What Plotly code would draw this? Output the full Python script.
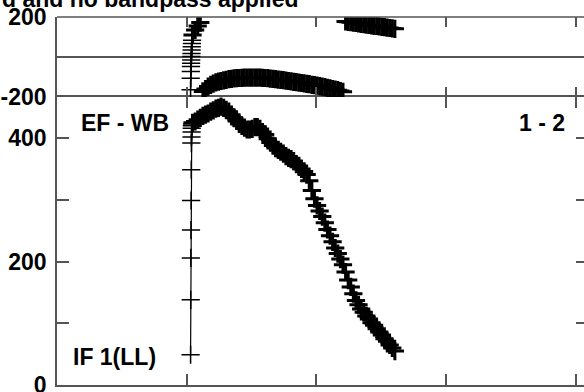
import plotly.graph_objects as go

# ---- data ----
# channel positions (x axis units; ticks at 1,2,3,4)
chan_x = [1.030, 1.031, 1.032, 1.033, 1.034, 1.035, 1.036, 1.037, 1.038, 1.039, 1.040, 1.041,
          1.045, 1.065, 1.085, 1.105, 1.125, 1.145, 1.165, 1.185, 1.205, 1.225,
          1.245, 1.265, 1.285, 1.305, 1.325, 1.345, 1.365, 1.385, 1.405, 1.425,
          1.445, 1.465, 1.485, 1.505, 1.525, 1.545, 1.565, 1.585, 1.605, 1.625,
          1.645, 1.665, 1.685, 1.705, 1.725, 1.745, 1.765, 1.785, 1.805, 1.825,
          1.845, 1.865, 1.885, 1.905, 1.925, 1.945, 1.965, 1.985, 2.005, 2.025,
          2.045, 2.065, 2.085, 2.105, 2.125, 2.145, 2.165, 2.185, 2.205, 2.225,
          2.245, 2.265, 2.285, 2.305, 2.325, 2.345, 2.365, 2.385, 2.405, 2.425,
          2.445, 2.465, 2.485, 2.505, 2.525, 2.545, 2.565, 2.585, 2.605]

amplitude = [49, 138, 206, 251, 299, 349, 392, 402, 410, 416, 420, 423,
             425, 427, 430, 433, 436, 438, 440, 443, 445, 448,
             449, 451, 449, 446, 443, 438, 433, 428, 423, 420,
             417, 414, 414, 415, 418, 418, 415, 410, 406, 399,
             393, 388, 384, 381, 378, 375, 371, 368, 366, 363,
             358, 355, 350, 346, 341, 331, 315, 302, 291, 282,
             273, 263, 252, 242, 232, 222, 213, 204, 195, 183,
             170, 159, 148, 137, 130, 123, 118, 112, 107, 101,
             97, 91, 86, 81, 75, 71, 65, 60, 55]

phase = [-164, -106, -73, -48, -31, -15, 2, 18, 35, 51, 68, 84,
         110, 135, 155, 172, -172, -160, -148, -139, -133, -127,
         -123, -120, -117, -114, -111, -109, -107, -106, -105, -104,
         -103, -103, -103, -103, -103, -103, -103, -104, -105, -106,
         -108, -109, -111, -113, -114, -116, -118, -120, -122, -124,
         -126, -128, -130, -132, -134, -136, -139, -141, -143, -146,
         -148, -151, -154, -157, -160, -163, -166, -170, -174, 178,
         176, 174, 172, 170, 168, 166, 164, 162, 160, 158,
         156, 155, 153, 151, 149, 147, 145, 143, 141]

amp_ticks = [0, 100, 200, 300, 400]
amp_ticktext = ["0", "", "200", "", "400"]
phase_ticks = [-200, 200]
phase_ticktext = ["-200", "200"]
x_ticks = [0, 1, 2, 3, 4]

title_text = "d and no bandpass applied"
baseline_label = "EF - WB"
pair_label = "1 - 2"
if_label = "IF 1(LL)"

N_SPREAD = 12  # first channels, drawn with thin crosses

# ---- break the phase line where it wraps ----
ph_x, ph_y, ph_w = [], [], []
for i, (xv, pv) in enumerate(zip(chan_x, phase)):
    if i > 0 and abs(pv - phase[i - 1]) > 180:
        ph_x.append((xv + chan_x[i - 1]) / 2)
        ph_y.append(None)
        ph_w.append(1)
    ph_x.append(xv)
    ph_y.append(pv)
    ph_w.append(1.5 if i < N_SPREAD else 3)
amp_w = [1.5 if i < N_SPREAD else 3 for i in range(len(amplitude))]

W, H = 584, 392
ML, MR, MT, MB = 57, 0, 17, 7
pw = W - ML - MR
ph = H - MT - MB
PX_PER_UNIT = 129.7
x_range = [0, pw / PX_PER_UNIT]
split = 288 / ph

FONT = "Liberation Sans, Arial, Helvetica, sans-serif"
LC = "#555555"
FS = 23
tickfont = dict(family=FONT, size=FS, color="black", weight="bold")


def mk(widths):
    return dict(symbol="cross-thin", size=13, color="black",
                line=dict(color="black", width=widths))


fig = go.Figure()
fig.add_trace(go.Scatter(x=chan_x, y=amplitude, mode="lines+markers",
                         line=dict(color="black", width=1.2), marker=mk(amp_w),
                         xaxis="x", yaxis="y", showlegend=False, hoverinfo="skip"))
fig.add_trace(go.Scatter(x=ph_x, y=ph_y, mode="lines+markers", connectgaps=False,
                         line=dict(color="black", width=1.2), marker=mk(ph_w),
                         xaxis="x2", yaxis="y2", showlegend=False, hoverinfo="skip"))
fig.add_trace(go.Scatter(x=[], y=[], xaxis="x", yaxis="y3", showlegend=False))

common_x = dict(range=x_range, tickvals=x_ticks, ticks="inside", tickcolor=LC, tickwidth=1.5,
                linecolor=LC, linewidth=1.5, mirror="ticks", automargin=False,
                showticklabels=False, showgrid=False, zeroline=False, domain=[0, 1])

fig.update_layout(
    width=W, height=H,
    margin=dict(l=ML, r=MR, t=MT, b=MB, pad=0, autoexpand=False),
    paper_bgcolor="white", plot_bgcolor="white",
    xaxis=dict(common_x, anchor="y", ticklen=11, showline=True),
    xaxis2=dict(common_x, anchor="y2", ticklen=10, showline=False),
    yaxis=dict(domain=[0, split], range=[0, 466.7], tickvals=amp_ticks, ticktext=amp_ticktext,
               ticks="inside", ticklen=12, tickcolor=LC, tickwidth=1.5,
               showline=True, linecolor=LC, linewidth=1.5, mirror=False, automargin=False,
               showgrid=False, zeroline=False, tickfont=tickfont, anchor="x",
               ticklabelstandoff=4, ticklabeloverflow="allow"),
    yaxis2=dict(domain=[split, 1], range=[-200, 200], tickvals=phase_ticks, ticktext=phase_ticktext,
                ticks="", showline=True, linecolor=LC, linewidth=1.5, mirror=False, automargin=False,
                showgrid=False, zeroline=True, zerolinecolor=LC, zerolinewidth=1.5,
                tickfont=tickfont, anchor="x2", ticklabelstandoff=4, ticklabeloverflow="allow"),
    yaxis3=dict(overlaying="y", side="right", anchor="x", range=[0, 466.7], tickvals=amp_ticks,
                ticks="inside", ticklen=8, tickcolor=LC, tickwidth=1.5, automargin=False,
                showticklabels=False, showline=False, showgrid=False, zeroline=False),
    shapes=[dict(type="line", xref="paper", yref="paper", x0=0, x1=1, y0=1, y1=1,
                 line=dict(color=LC, width=1.5))],
)


def px_to_paper(px, py):
    return (px - ML) / pw, (H - MB - py) / ph


annots = []
ax, ay = px_to_paper(300, -1)
annots.append(dict(text=title_text, x=ax, y=ay, xanchor="right", yanchor="middle"))
ax, ay = px_to_paper(79, 123)
annots.append(dict(text=baseline_label, x=ax, y=ay, xanchor="left", yanchor="middle"))
ax, ay = px_to_paper(567, 123)
annots.append(dict(text=pair_label, x=ax, y=ay, xanchor="right", yanchor="middle"))
ax, ay = px_to_paper(71, 357)
annots.append(dict(text=if_label, x=ax, y=ay, xanchor="left", yanchor="middle"))
for a in annots:
    a.update(xref="paper", yref="paper", showarrow=False,
             font=dict(family=FONT, size=FS, color="black", weight="bold"))
fig.update_layout(annotations=annots)

fig.write_html("out.html", config={"displayModeBar": False},
               post_script="document.body.style.margin='0';document.body.style.overflow='hidden';")
